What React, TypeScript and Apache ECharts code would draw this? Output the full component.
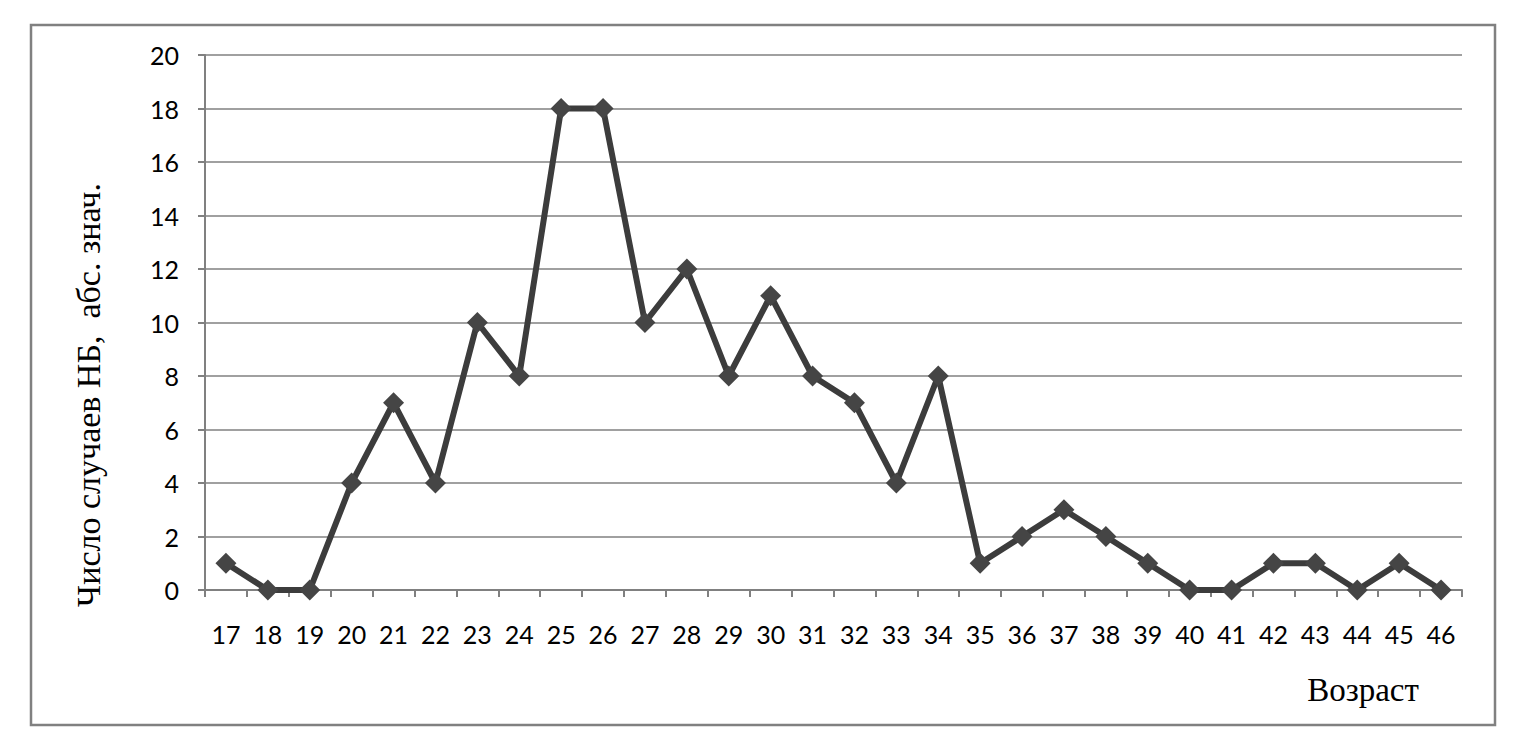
import React, { useEffect, useRef } from "react";
import * as echarts from "echarts";

const ages = ["17","18","19","20","21","22","23","24","25","26","27","28","29","30","31","32","33","34","35","36","37","38","39","40","41","42","43","44","45","46"];
const cases = [1,0,0,4,7,4,10,8,18,18,10,12,8,11,8,7,4,8,1,2,3,2,1,0,0,1,1,0,1,0];
const yTitle = "Число случаев НБ,  абс. знач.";
const xTitle = "Возраст";

export default function App() {
  const ref = useRef<HTMLDivElement>(null);
  useEffect(() => {
    const chart = echarts.init(ref.current!, null, { renderer: "svg" });
    chart.setOption({
      animation: false,
      backgroundColor: "#ffffff",
      grid: { left: 205, right: 59, top: 55, bottom: 166 },
      xAxis: {
        type: "category",
        data: ages,
        boundaryGap: true,
        axisLine: { lineStyle: { color: "#808080", width: 2 } },
        axisTick: { show: true, length: 7, inside: false, lineStyle: { color: "#808080", width: 2 } },
        axisLabel: { color: "#000", fontSize: 25, fontFamily: "Lato", margin: 31, interval: 0 },
        splitLine: { show: false },
      },
      yAxis: {
        type: "value",
        min: 0,
        max: 20,
        interval: 2,
        axisLine: { show: true, lineStyle: { color: "#808080", width: 2 } },
        axisTick: { show: true, length: 7, lineStyle: { color: "#808080", width: 2 } },
        axisLabel: { color: "#000", fontSize: 25, fontFamily: "Lato", margin: 26 },
        splitLine: { show: true, lineStyle: { color: "#808080", width: 1.6 } },
      },
      series: [
        {
          type: "line",
          data: cases,
          symbol: "diamond",
          symbolSize: 21,
          lineStyle: { color: "#3c3c3c", width: 6 },
          itemStyle: { color: "#454545" },
        },
      ],
      graphic: [
        {
          type: "rect",
          shape: { x: 31, y: 25, width: 1464, height: 700 },
          style: { fill: "none", stroke: "#808080", lineWidth: 2.5 },
          silent: true,
        },
        {
          type: "text",
          x: 88,
          y: 395,
          rotation: Math.PI / 2,
          style: {
            text: yTitle,
            fontFamily: "Liberation Serif",
            fontSize: 34,
            fill: "#000",
            align: "center",
            verticalAlign: "middle",
          },
        },
        {
          type: "text",
          x: 1363,
          y: 690,
          style: {
            text: xTitle,
            fontFamily: "Liberation Serif",
            fontSize: 33,
            fill: "#000",
            align: "center",
            verticalAlign: "middle",
          },
        },
      ],
    });
    return () => chart.dispose();
  }, []);
  return (
    <div
      ref={ref}
      style={{ position: "fixed", left: 0, top: 0, width: 1521, height: 756, background: "#fff" }}
    />
  );
}
